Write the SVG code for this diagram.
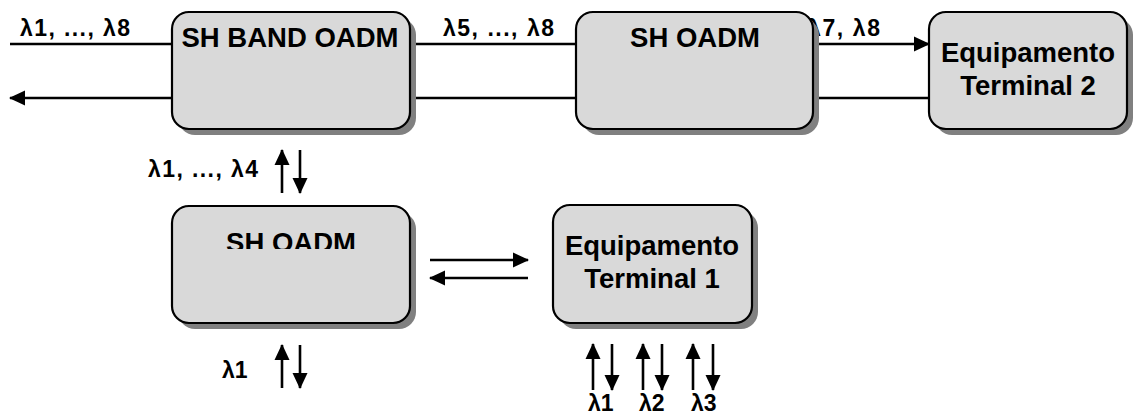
<svg xmlns="http://www.w3.org/2000/svg" width="1139" height="414" viewBox="0 0 1139 414">
  <style>
    .box { fill: #d9d9d9; stroke: #000; stroke-width: 2.2; }
    .shadow { fill: #808080; }
    .title { font-family: "Liberation Sans", Arial, sans-serif; font-weight: bold; font-size: 27.5px; fill: #000; text-anchor: middle; }
    .lbl { font-family: "Liberation Sans", Arial, sans-serif; font-weight: bold; font-size: 23px; fill: #000; }
    .wire { stroke: #000; stroke-width: 2.6; fill: none; }
  </style>
  <defs>
    <marker id="head" viewBox="0 0 16 16" refX="15" refY="8" markerWidth="16" markerHeight="16" markerUnits="userSpaceOnUse" orient="auto">
      <path d="M0,0.5 L16,8 L0,15.5 Z" fill="#000"/>
    </marker>
    <clipPath id="cut-oadm2">
      <rect x="172" y="200" width="240" height="49"/>
    </clipPath>
  </defs>

  <!-- label partly tucked behind the SH OADM box -->
  <text class="lbl" x="808" y="36" textLength="72" lengthAdjust="spacing">λ7, λ8</text>

  <g id="connectors">
    <!-- main trunk, upper (eastbound) and lower (westbound) fibres -->
    <line class="wire" x1="10" y1="44" x2="172" y2="44"/>
    <line class="wire" x1="172" y1="98" x2="10" y2="98" marker-end="url(#head)"/>
    <line class="wire" x1="410" y1="44" x2="576" y2="44"/>
    <line class="wire" x1="410" y1="98" x2="576" y2="98"/>
    <line class="wire" x1="813" y1="44" x2="929" y2="44" marker-end="url(#head)"/>
    <line class="wire" x1="813" y1="98" x2="929" y2="98"/>

    <!-- band drop/add between SH BAND OADM and SH OADM -->
    <line class="wire" x1="282" y1="193" x2="282" y2="150" marker-end="url(#head)"/>
    <line class="wire" x1="300" y1="150" x2="300" y2="193" marker-end="url(#head)"/>

    <!-- SH OADM to Equipamento Terminal 1 -->
    <line class="wire" x1="430" y1="260" x2="528" y2="260" marker-end="url(#head)"/>
    <line class="wire" x1="528" y1="278" x2="430" y2="278" marker-end="url(#head)"/>

    <!-- channel drop/add under SH OADM -->
    <line class="wire" x1="282" y1="388" x2="282" y2="345" marker-end="url(#head)"/>
    <line class="wire" x1="300" y1="345" x2="300" y2="388" marker-end="url(#head)"/>

    <!-- channel drop/add under Equipamento Terminal 1 -->
    <line class="wire" x1="593" y1="390" x2="593" y2="344" marker-end="url(#head)"/>
    <line class="wire" x1="612" y1="344" x2="612" y2="390" marker-end="url(#head)"/>
    <line class="wire" x1="643" y1="390" x2="643" y2="344" marker-end="url(#head)"/>
    <line class="wire" x1="662" y1="344" x2="662" y2="390" marker-end="url(#head)"/>
    <line class="wire" x1="693" y1="390" x2="693" y2="344" marker-end="url(#head)"/>
    <line class="wire" x1="713" y1="344" x2="713" y2="390" marker-end="url(#head)"/>
  </g>

  <g id="sh-band-oadm">
    <rect class="shadow" x="178" y="18" width="238" height="117" rx="17"/>
    <rect class="box" x="172" y="12" width="238" height="117" rx="17"/>
    <text class="title" x="290" y="47">SH BAND OADM</text>
  </g>

  <g id="sh-oadm-1">
    <rect class="shadow" x="582" y="18" width="237" height="117" rx="17"/>
    <rect class="box" x="576" y="12" width="237" height="117" rx="17"/>
    <text class="title" x="695" y="47">SH OADM</text>
  </g>

  <g id="terminal-2">
    <rect class="shadow" x="935" y="18" width="198" height="117" rx="17"/>
    <rect class="box" x="929" y="12" width="198" height="117" rx="17"/>
    <text class="title" x="1028" y="62">Equipamento</text>
    <text class="title" x="1028" y="95">Terminal 2</text>
  </g>

  <g id="sh-oadm-2">
    <rect class="shadow" x="178" y="212" width="238" height="117" rx="17"/>
    <rect class="box" x="172" y="206" width="238" height="117" rx="17"/>
    <text class="title" x="291" y="252" clip-path="url(#cut-oadm2)">SH OADM</text>
  </g>

  <g id="terminal-1">
    <rect class="shadow" x="559" y="211" width="199" height="118" rx="17"/>
    <rect class="box" x="553" y="205" width="199" height="118" rx="17"/>
    <text class="title" x="652" y="255">Equipamento</text>
    <text class="title" x="652" y="288">Terminal 1</text>
  </g>

  <g id="labels">
    <text class="lbl" x="20" y="36" textLength="110" lengthAdjust="spacing">λ1, ..., λ8</text>
    <text class="lbl" x="443" y="36" textLength="111" lengthAdjust="spacing">λ5, ..., λ8</text>
    <text class="lbl" x="148" y="177" textLength="110" lengthAdjust="spacing">λ1, ..., λ4</text>
    <text class="lbl" x="222" y="378">λ1</text>
    <text class="lbl" x="588" y="411">λ1</text>
    <text class="lbl" x="639" y="411">λ2</text>
    <text class="lbl" x="691" y="411">λ3</text>
  </g>
</svg>
